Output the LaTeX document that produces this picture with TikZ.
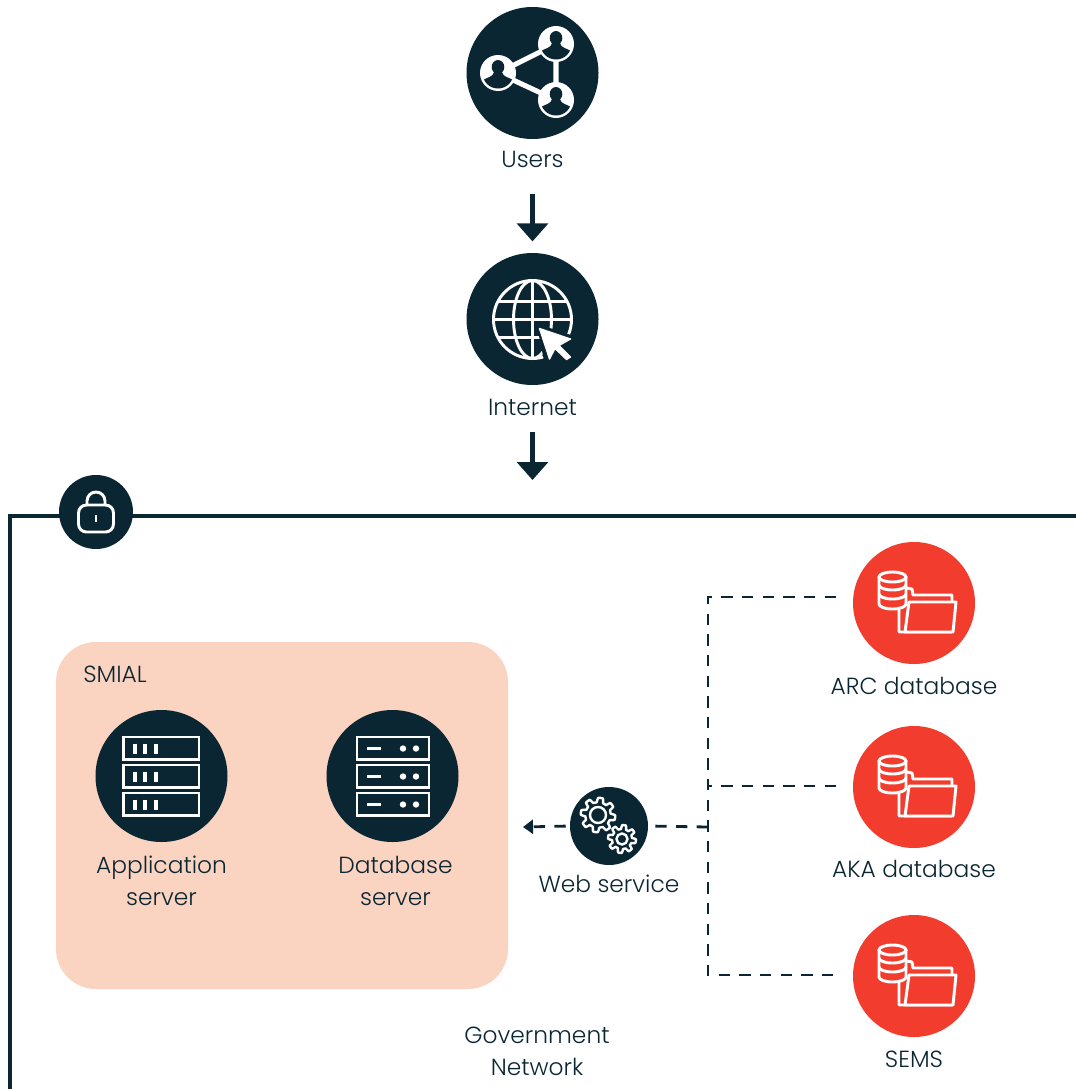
\documentclass[tikz,border=0pt]{standalone}
\usepackage{fontspec}
\setmainfont{Poppins Light}
\usetikzlibrary{arrows.meta,calc}
\definecolor{navy}{HTML}{0A2633}
\definecolor{peach}{HTML}{FBD3C1}
\definecolor{redc}{HTML}{F23D2E}
\tikzset{
  x=0.75pt,y=-0.75pt,
  navydisc/.style={circle,fill=navy,draw=none,inner sep=0pt,minimum size=#1*0.75pt},
  reddisc/.style={circle,fill=redc,draw=none,inner sep=0pt,minimum size=122*0.75pt},
  label/.style={text=navy,inner sep=0pt,align=center,font=\fontsize{17.5}{24}\selectfont},
  icon/.style={draw=white,line width=2.2pt,fill=none},
  thin icon/.style={draw=white,line width=1.8pt,fill=none},
  blockarrow/.style={draw=navy,line width=3.2pt,-{Triangle[width=23pt,length=13.5pt]}},
  dashline/.style={draw=navy,line width=2.1pt,dash pattern=on 8.5pt off 7pt},
  dashend/.style={dashline,-{Triangle[width=10.5pt,length=7.5pt]}},
}
\newcommand{\personicon}[2]{%
  \begin{scope}[shift={(#1,#2)}]
    \fill[white] (0,0) circle (18);
    \begin{scope}
      \clip (0,0) circle (15.5);
      \fill[navy] (0,-6) ellipse (6.3 and 7);
      \fill[navy] (-15,16) -- (-15,7) .. controls (-10,4) and (-5,4) .. (-4,-1) -- (4,-1) .. controls (5,4) and (10,4) .. (15,7) -- (15,16) -- cycle;
    \end{scope}
  \end{scope}}
\newcommand{\gearicon}[5]{% x y base amp hole
  \draw[thin icon,line join=round,shift={(#1,#2)}] plot[domain=0:360,samples=193] (\x:{#3+#4*max(-1,min(1,2.2*sin(8*\x+20)))}) -- cycle;
  \draw[thin icon] (#1,#2) circle (#5);}
\newcommand{\dbicon}[2]{%
  \begin{scope}[shift={(#1,#2)}]
    \draw[icon,line join=round] (-15,3) -- (-15,29) -- (38,29) -- (38,-8) -- (-1,-8) -- (-2,-14) -- (-7,-15);
    \fill[redc] (-5,-1) -- (42,-1) -- (39,29) -- (-9,29) -- cycle;
    \draw[icon,line join=round] (-5,-1) -- (42,-1) -- (39,29) -- (-9,29) -- cycle;
    \fill[redc] (-35,-26) rectangle (-8,1);
    \fill[redc] (-21.5,1) ellipse (13.5 and 5);
    \fill[redc] (-21.5,-26) ellipse (13.5 and 5);
    \draw[icon] (-21.5,-26) ellipse (13.5 and 5);
    \draw[icon] (-35,-26) -- (-35,1) arc[start angle=180,end angle=0,x radius=13.5,y radius=5] -- (-8,-26);
    \draw[icon] (-35,-18) arc[start angle=180,end angle=0,x radius=13.5,y radius=5];
    \draw[icon] (-35,-9) arc[start angle=180,end angle=0,x radius=13.5,y radius=5];
  \end{scope}}
\begin{document}
\begin{tikzpicture}
\useasboundingbox (0,0) rectangle (1075,1089);

% network frame
\draw[navy,line width=2.3pt] (10,1090) -- (10,516) -- (1076,516);

% SMIAL panel
\fill[peach,rounded corners=30pt] (56,642) rectangle (508,989);

% nodes
\node[navydisc=132] (users) at (532.5,73) {};
\node[label] (userslabel) at (532.5,159.5) {Users};
\node[navydisc=132] (internet) at (532.5,319) {};
\node[label] (internetlabel) at (532.5,407.5) {Internet};
\coordinate (networkentry) at (532.5,480);
\node[navydisc=74] (lock) at (96,512) {};
\node[label,anchor=west] (smial) at (83,674) {SMIAL};
\node[navydisc=132] (app) at (161.5,776) {};
\node[label] (applabel) at (161.5,881) {Application\\server};
\node[navydisc=132] (dbs) at (392.5,776) {};
\node[label] (dbslabel) at (395.5,881) {Database\\server};
\node[navydisc=78] (web) at (609,826) {};
\node[label] (weblabel) at (609,884) {Web service};
\node[reddisc] (arc) at (914,603) {};
\node[label] (arclabel) at (914,686) {ARC database};
\node[reddisc] (aka) at (914,787) {};
\node[label] (akalabel) at (914,869) {AKA database};
\node[reddisc] (sems) at (914,976) {};
\node[label] (semslabel) at (914,1059) {SEMS};
\node[label] (gov) at (537,1051) {Government\\Network};

% block arrows
\draw[blockarrow,shorten <=19.5pt,shorten >=8.5pt] (userslabel.south) -- (internet.north);
\draw[blockarrow,shorten <=12pt] (internetlabel.south) -- (networkentry);

% dashed connectors
\coordinate (arcend) at (836,597);
\coordinate (akaend) at (836,786);
\coordinate (semsend) at (836,975);
\coordinate (bustop) at (708,597);
\coordinate (busmid) at (708,786);
\coordinate (busweb) at (708,827);
\coordinate (busbottom) at (708,975);
\coordinate (webleft) at (523,827);
\draw[dashline] (arcend) -- (bustop) -- (busbottom) -- (semsend);
\draw[dashline] (akaend) -- (busmid);
\draw[dashline] (busweb) -- (web.east);
\draw[dashend,shorten <=3pt] (web.west) -- (webleft);

% users icon
\draw[white,line width=3.8pt] (498,73) -- (556,44) -- (556,100) -- cycle;
\personicon{556}{44}
\personicon{498}{73}
\personicon{556}{100}

% internet icon
\begin{scope}[shift={(532.5,319.5)}]
  \draw[icon] (0,0) circle (39);
  \draw[icon] (0,0) ellipse (19 and 39);
  \draw[icon] (0,-39) -- (0,39);
  \draw[icon] (-39,0) -- (39,0);
  \draw[icon] (-34,-18) -- (34,-18);
  \draw[icon] (-34,18) -- (34,18);
  \fill[navy] (4,4) -- (46,18) -- (30,28) -- (42,44) -- (28,44) -- (18,40) -- (12,44) -- cycle;
  \fill[white,draw=white,line width=1pt,line join=round] (7,9) -- (38,19.5) -- (26.5,26) -- (38,37.5) -- (34,40) -- (22.5,29) -- (17,39.5) -- cycle;
\end{scope}

% lock icon
\begin{scope}[shift={(96,512)}]
  \draw[icon,rounded corners=6pt] (-17.5,-7) rectangle (17.5,20);
  \draw[icon] (-9,-7) -- (-9,-11) arc[start angle=180,end angle=360,radius=9] -- (9,-7);
  \draw[white,line width=1.9pt] (0,3) -- (0,10);
\end{scope}

% application server icon
\foreach \y in {737,765,793}{
  \draw[icon,line width=1.9pt] (123.5,\y) rectangle (199,\y+22.5);
  \foreach \x in {135,145,156}
    \draw[white,line width=3pt] (\x,\y+6.5) -- (\x,\y+17);
}
% database server icon
\foreach \y in {737,765,793}{
  \draw[icon,line width=1.6pt] (357,\y) rectangle (429,\y+22.5);
  \draw[white,line width=1.6pt] (367,\y+11.5) -- (381,\y+11.5);
  \fill[white] (403,\y+11.5) circle (3.2);
  \fill[white] (416,\y+11.5) circle (3.2);
}

% web service icon
\gearicon{598}{815}{15}{2.3}{8}
\gearicon{622}{839}{12}{2}{5.5}

% folder + database icons
\dbicon{914}{603}
\dbicon{914}{787}
\dbicon{914}{976}
\end{tikzpicture}
\end{document}
